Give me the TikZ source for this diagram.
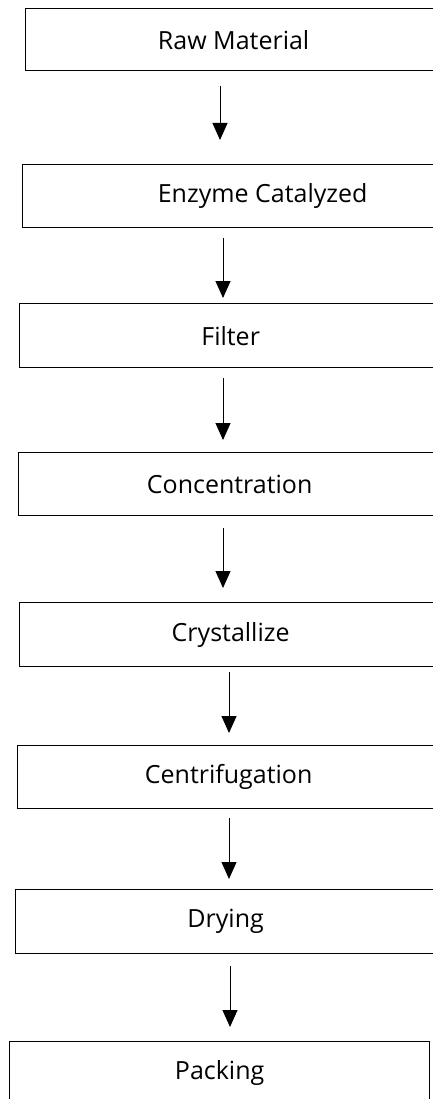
\documentclass[tikz,border=0pt]{standalone}
\usepackage{fontspec}
\setmainfont{Open Sans}
\usetikzlibrary{arrows.meta}

\tikzset{
  stepbox/.style={draw, line width=1.3pt, anchor=north west, inner sep=0pt,
    font=\fontsize{25}{29}\selectfont},
  flow/.style={-{Triangle[width=15pt,length=17pt]}, line width=1pt}
}

\begin{document}
\begin{tikzpicture}[x=1pt,y=1pt]
  \useasboundingbox (0,0) rectangle (432,-1099);
  % process steps
  \node [stepbox, minimum width=416pt, minimum height=62pt] (raw)  at (25,-8)   {Raw Material};
  \node [stepbox, minimum width=480pt, minimum height=63pt] (enz)  at (22,-164) {Enzyme Catalyzed};
  \node [stepbox, minimum width=422pt, minimum height=64pt] (filt) at (19,-303) {Filter};
  \node [stepbox, minimum width=422pt, minimum height=63pt] (conc) at (18,-452) {Concentration};
  \node [stepbox, minimum width=422pt, minimum height=64pt] (cry)  at (19,-602) {Crystallize};
  \node [stepbox, minimum width=422pt, minimum height=63pt] (cent) at (17,-745) {Centrifugation};
  \node [stepbox, minimum width=420pt, minimum height=64pt] (dry)  at (15,-889) {Drying};
  \node [stepbox, minimum width=420pt, minimum height=63pt] (pack) at (9,-1041) {Packing};
  % arrows
  \draw [flow, shorten <=15pt, shorten >=24pt] (raw.south -| 220,0)  -- (enz.north -| 220,0);
  \draw [flow, shorten <=10pt, shorten >=5pt]  (enz.south -| 223,0)  -- (filt.north -| 223,0);
  \draw [flow, shorten <=10pt, shorten >=12pt] (filt.south -| 223,0) -- (conc.north -| 223,0);
  \draw [flow, shorten <=12pt, shorten >=14pt] (conc.south -| 223,0) -- (cry.north -| 223,0);
  \draw [flow, shorten <=5pt, shorten >=12pt]  (cry.south -| 229,0)  -- (cent.north -| 229,0);
  \draw [flow, shorten <=9pt, shorten >=10pt]  (cent.south -| 229,0) -- (dry.north -| 229,0);
  \draw [flow, shorten <=12pt, shorten >=14pt] (dry.south -| 230,0)  -- (pack.north -| 230,0);
\end{tikzpicture}
\end{document}
